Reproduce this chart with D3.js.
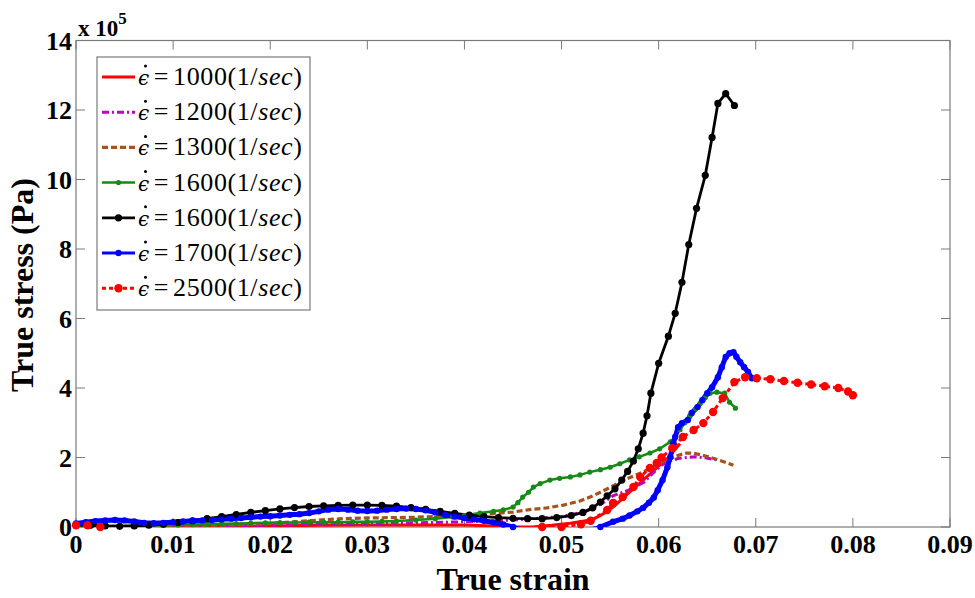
<!DOCTYPE html>
<html>
<head>
<meta charset="utf-8">
<script src="https://cdn.jsdelivr.net/npm/d3@7"></script>
<style>
body { margin: 0; background: #fff; }
</style>
</head>
<body>
<div id="chart"></div>
<script>
// Data (strain, stress x 1e5 Pa) ---------- ----------
let xTicks = [0, 0.01, 0.02, 0.03, 0.04, 0.05, 0.06, 0.07, 0.08, 0.09];
let yTicks = [0, 2, 4, 6, 8, 10, 12, 14];
let rates = ["1000", "1200", "1300", "1600", "1600", "1700", "2500"];

let red1000 = [[0,0.02],[0.01,0.01],[0.02,0.03],[0.025,0.05],[0.03,0.06],[0.035,0.06],[0.04,0.06],[0.043,0.03],[0.0447,0.0],[0.047,0.0],[0.049,0.05],[0.0509,0.11],[0.053,0.2],[0.054,0.33],[0.0547,0.45],[0.0555,0.62],[0.0563,0.82],[0.057,1.0],[0.058,1.25],[0.059,1.5],[0.06,1.75],[0.061,2.0],[0.0622,2.4]];

let mag1200 = [[0,0.01],[0.005,0.01],[0.01,0.02],[0.015,0.03],[0.02,0.05],[0.025,0.08],[0.03,0.1],[0.035,0.12],[0.04,0.15],[0.045,0.2],[0.05,0.3],[0.0525,0.45],[0.054,0.65],[0.0553,0.9],[0.0569,1.06],[0.0585,1.29],[0.0594,1.55],[0.0603,1.78],[0.0611,1.9],[0.062,1.97],[0.0629,2.0],[0.0638,2.02],[0.0648,1.99],[0.066,1.93]];

let brown1300 = [[0,0.02],[0.005,0.02],[0.01,0.03],[0.015,0.05],[0.02,0.1],[0.0225,0.15],[0.025,0.2],[0.0275,0.24],[0.03,0.26],[0.0325,0.27],[0.035,0.28],[0.0375,0.31],[0.04,0.34],[0.0425,0.38],[0.045,0.43],[0.0467,0.5],[0.0485,0.55],[0.0502,0.63],[0.0519,0.75],[0.053,0.87],[0.054,1.0],[0.055,1.14],[0.056,1.29],[0.057,1.42],[0.0581,1.55],[0.0594,1.72],[0.0601,1.84],[0.0608,1.93],[0.0615,2.01],[0.0622,2.08],[0.0629,2.13],[0.0636,2.12],[0.0643,2.08],[0.065,2.03],[0.0656,1.98],[0.0667,1.88],[0.0677,1.78]];

let green1600 = [[0,0.03],[0.0015,0.03],[0.003,0.03],[0.0045,0.03],[0.006,0.04],[0.0075,0.04],[0.009,0.05],[0.0105,0.06],[0.012,0.07],[0.0135,0.08],[0.015,0.09],[0.0165,0.1],[0.018,0.11],[0.0195,0.12],[0.021,0.13],[0.0225,0.13],[0.024,0.14],[0.0255,0.14],[0.027,0.14],[0.0285,0.15],[0.03,0.15],[0.0315,0.16],[0.033,0.17],[0.035,0.2],[0.037,0.24],[0.0388,0.29],[0.04,0.33],[0.0416,0.4],[0.043,0.45],[0.044,0.49],[0.045,0.57],[0.0455,0.7],[0.046,0.86],[0.0466,1.0],[0.0471,1.15],[0.0478,1.25],[0.0488,1.35],[0.0498,1.4],[0.0509,1.44],[0.0519,1.5],[0.0529,1.58],[0.054,1.65],[0.055,1.72],[0.056,1.82],[0.057,1.93],[0.058,2.02],[0.0591,2.13],[0.0601,2.25],[0.0612,2.45],[0.0617,2.6],[0.0622,2.8],[0.0627,3.0],[0.0632,3.2],[0.0638,3.4],[0.0643,3.56],[0.0648,3.72],[0.0653,3.85],[0.066,3.88],[0.0668,3.85],[0.0673,3.59],[0.0679,3.42]];

let black1600 = [[0,0.06],[0.0015,0.05],[0.003,0.03],[0.0045,0.02],[0.006,0.03],[0.0075,0.05],[0.009,0.08],[0.0105,0.13],[0.012,0.18],[0.0135,0.24],[0.015,0.3],[0.0165,0.36],[0.018,0.42],[0.0195,0.47],[0.021,0.52],[0.0225,0.56],[0.024,0.59],[0.0255,0.61],[0.027,0.62],[0.0285,0.63],[0.03,0.63],[0.0315,0.62],[0.033,0.6],[0.0345,0.56],[0.036,0.51],[0.0375,0.45],[0.039,0.39],[0.0405,0.34],[0.042,0.3],[0.0435,0.27],[0.045,0.25],[0.0465,0.24],[0.048,0.24],[0.0495,0.27],[0.051,0.33],[0.0522,0.42],[0.0532,0.55],[0.054,0.72],[0.0547,0.9],[0.0555,1.1],[0.0562,1.35],[0.0568,1.6],[0.0574,1.9],[0.0579,2.25],[0.0584,2.7],[0.0588,3.2],[0.0592,3.85],[0.06,4.71],[0.061,5.49],[0.0617,6.15],[0.0624,7.04],[0.0631,8.13],[0.0639,9.17],[0.0648,10.12],[0.0655,11.21],[0.0661,12.19],[0.0669,12.47],[0.0678,12.13]];

let blue1700 = [[0,0.1],[0.001,0.14],[0.002,0.17],[0.003,0.19],[0.004,0.2],[0.005,0.19],[0.006,0.16],[0.007,0.12],[0.008,0.11],[0.009,0.12],[0.01,0.14],[0.011,0.16],[0.012,0.18],[0.013,0.19],[0.014,0.2],[0.015,0.22],[0.016,0.24],[0.017,0.26],[0.018,0.28],[0.019,0.3],[0.02,0.31],[0.021,0.33],[0.022,0.35],[0.023,0.37],[0.024,0.4],[0.025,0.45],[0.026,0.5],[0.027,0.52],[0.028,0.5],[0.029,0.47],[0.03,0.46],[0.031,0.47],[0.032,0.5],[0.033,0.52],[0.034,0.53],[0.035,0.52],[0.036,0.48],[0.037,0.42],[0.038,0.35],[0.039,0.3],[0.04,0.26],[0.041,0.22],[0.042,0.18],[0.043,0.13],[0.044,0.07],[0.045,0.0],[0.046,-0.1],[0.048,-0.2],[0.05,-0.2],[0.052,-0.15],[0.0535,-0.05],[0.054,0.0],[0.0553,0.15],[0.0563,0.24],[0.057,0.33],[0.0578,0.45],[0.0584,0.55],[0.059,0.7],[0.0595,0.85],[0.0599,1.06],[0.0604,1.35],[0.0609,1.72],[0.0612,2.01],[0.0615,2.41],[0.0617,2.59],[0.062,2.87],[0.0624,2.99],[0.063,3.08],[0.0634,3.28],[0.064,3.45],[0.0645,3.65],[0.065,3.85],[0.0655,4.02],[0.0661,4.31],[0.0665,4.6],[0.0669,4.89],[0.0673,5.0],[0.0677,5.03],[0.068,4.9],[0.0684,4.74],[0.0688,4.6],[0.0692,4.46],[0.0696,4.28]];

let red2500 = [[0,0.05],[0.0012,0.05],[0.0025,0.0],[0.004,-0.15],[0.044,-0.15],[0.046,-0.05],[0.048,0.0],[0.05,0.0],[0.052,0.08],[0.053,0.18],[0.0547,0.49],[0.0553,0.69],[0.0563,0.86],[0.0574,1.15],[0.0581,1.44],[0.0591,1.7],[0.0598,1.84],[0.0603,2.0],[0.0614,2.27],[0.0625,2.59],[0.0636,2.79],[0.0646,2.99],[0.0656,3.31],[0.0666,3.71],[0.0678,4.17],[0.0689,4.31],[0.0701,4.28],[0.0715,4.25],[0.0729,4.2],[0.0743,4.15],[0.0757,4.1],[0.0771,4.05],[0.0785,4.0],[0.0795,3.9],[0.08,3.79]];

// Series styles ---------- ----------
let series = [
  {data: red1000,   color: "#ff0000", w: 3,   dash: null,      r: 0},
  {data: mag1200,   color: "#bf00bf", w: 3,   dash: "7,3,2,3", r: 0},
  {data: brown1300, color: "#a5521e", w: 3.2, dash: "6,3",     r: 0},
  {data: green1600, color: "#168a16", w: 2.5, dash: null,      r: 2.6},
  {data: black1600, color: "#000000", w: 2.8, dash: null,      r: 3.6},
  {data: blue1700,  color: "#0000ff", w: 5,   dash: null,      r: 3.2},
  {data: red2500,   color: "#ff0000", w: 3,   dash: "4,3",     r: 4.2}
];

// Canvas ---------- ----------
let canvasW = 975, canvasH = 598;
let serif = "'Liberation Serif', 'Times New Roman', Tinos, 'DejaVu Serif', serif";
let svg = d3.select("#chart").append("svg").attr("width", canvasW).attr("height", canvasH)
  .style("font-family", serif);
let x = d3.scaleLinear().domain([0, 0.09]).range([76, 950]);
let y = d3.scaleLinear().domain([0, 14]).range([527, 40.5]);
let axisColor = "#7a7a7a";

svg.append("rect").attr("x", x(0)).attr("y", y(14))
  .attr("width", x(0.09) - x(0)).attr("height", y(0) - y(14))
  .attr("fill", "#fff").attr("stroke", axisColor).attr("stroke-width", 1.2);

// Ticks (inside, all four sides)
xTicks.forEach(t => {
  svg.append("line").attr("x1", x(t)).attr("x2", x(t)).attr("y1", y(0)).attr("y2", y(0) - 9).attr("stroke", axisColor);
  svg.append("line").attr("x1", x(t)).attr("x2", x(t)).attr("y1", y(14)).attr("y2", y(14) + 9).attr("stroke", axisColor);
  svg.append("text").attr("font-family", serif).attr("font-weight", "bold").attr("font-size", 26)
    .attr("x", x(t)).attr("y", 553)
    .attr("text-anchor", "middle").text(t === 0 ? "0" : d3.format(".2f")(t));
});
yTicks.forEach(t => {
  svg.append("line").attr("x1", x(0)).attr("x2", x(0) + 9).attr("y1", y(t)).attr("y2", y(t)).attr("stroke", axisColor);
  svg.append("line").attr("x1", x(0.09)).attr("x2", x(0.09) - 9).attr("y1", y(t)).attr("y2", y(t)).attr("stroke", axisColor);
  svg.append("text").attr("font-family", serif).attr("font-weight", "bold").attr("font-size", 26)
    .attr("x", 72).attr("y", y(t) + 9)
    .attr("text-anchor", "end").text(t);
});

// Exponent label
let ex = svg.append("text").attr("font-family", serif).attr("x", 78).attr("y", 36)
  .attr("font-weight", "bold").attr("font-size", 23);
ex.append("tspan").text("x 10");
ex.append("tspan").attr("dy", -12).attr("font-size", 17).text("5");

// Axis titles
svg.append("text").attr("font-family", serif).attr("font-weight", "bold").attr("font-size", 32)
  .attr("x", 513).attr("y", 590).attr("text-anchor", "middle").text("True strain");
svg.append("text").attr("font-family", serif).attr("font-weight", "bold").attr("font-size", 32)
  .attr("transform", "translate(33,285) rotate(-90)")
  .attr("text-anchor", "middle").text("True stress (Pa)");

// Curves ---------- ----------
svg.append("clipPath").attr("id", "plotClip").append("rect")
  .attr("x", x(0)).attr("y", y(14)).attr("width", x(0.09) - x(0)).attr("height", y(0) - y(14));
let plot = svg.append("g").attr("clip-path", "url(#plotClip)");
let line = d3.line().x(d => x(d[0])).y(d => y(d[1]));

series.forEach(s => {
  plot.append("path").datum(s.data).attr("d", line)
    .attr("fill", "none").attr("stroke", s.color).attr("stroke-width", s.w)
    .attr("stroke-dasharray", s.dash).attr("stroke-linejoin", "round");
  if (s.r > 0) {
    svg.append("g").selectAll("circle").data(s.data.filter(d => d[1] >= 0)).enter().append("circle")
      .attr("cx", d => x(d[0])).attr("cy", d => y(d[1])).attr("r", s.r).attr("fill", s.color);
  }
});

// Legend ---------- ----------
let leg = svg.append("g");
leg.append("rect").attr("x", 97).attr("y", 57).attr("width", 213).attr("height", 253)
  .attr("fill", "#fff").attr("stroke", axisColor).attr("stroke-width", 1.2);
series.forEach((s, i) => {
  let ly = 77 + i * 35.2;
  leg.append("line").attr("x1", 102).attr("x2", 135).attr("y1", ly).attr("y2", ly)
    .attr("stroke", s.color).attr("stroke-width", Math.min(s.w, 3.2)).attr("stroke-dasharray", s.dash);
  if (s.r > 0) leg.append("circle").attr("cx", 118.5).attr("cy", ly).attr("r", s.r).attr("fill", s.color);
  // dot over epsilon
  leg.append("circle").attr("cx", 145.5).attr("cy", ly - 11).attr("r", 1.5).attr("fill", "#000");
  let t = leg.append("text").attr("font-family", serif).attr("font-size", 26)
    .attr("letter-spacing", 0.6).attr("x", 138).attr("y", ly + 8);
  t.append("tspan").attr("font-style", "italic").attr("font-family", "'DejaVu Serif', serif").attr("font-size", 20).text("\u03f5");
  t.append("tspan").attr("dx", 4).text("=");
  t.append("tspan").attr("dx", 4).text(rates[i] + "(1/");
  t.append("tspan").attr("font-style", "italic").text("sec");
  t.append("tspan").text(")");
});
</script>
</body>
</html>
